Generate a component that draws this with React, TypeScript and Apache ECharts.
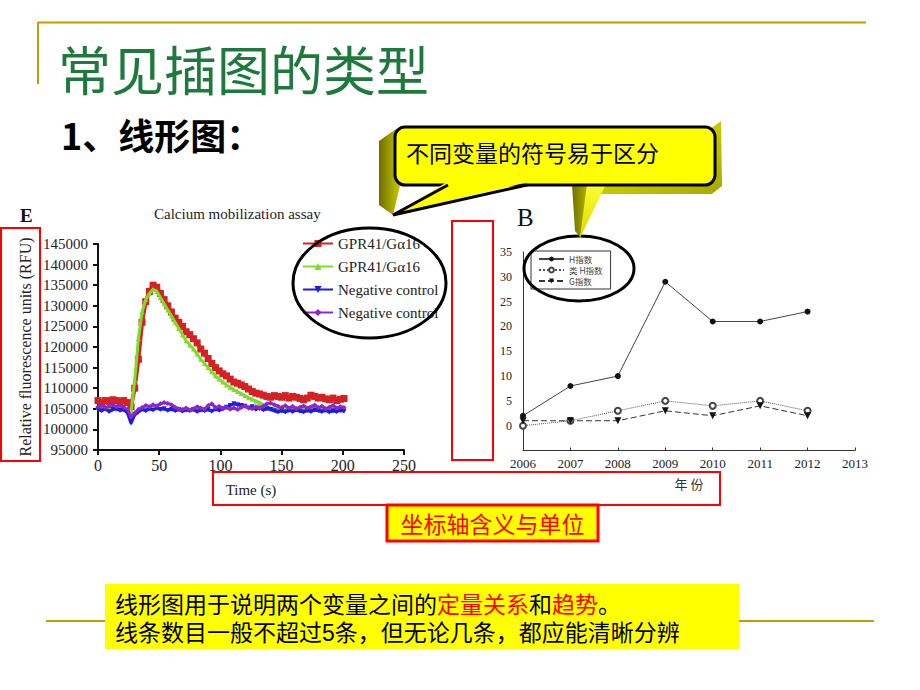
import React, { useEffect, useRef } from 'react';
import * as echarts from 'echarts';

// ---------- Panel E: Calcium mobilization assay ----------
const timeS = [0, 3, 6, 9, 12, 15, 18, 21, 24, 27, 30, 33, 36, 39, 42, 45, 48, 51, 54, 57, 60, 63, 66, 69, 72, 75, 78, 81, 84, 87, 90, 93, 96, 99, 102, 105, 108, 111, 114, 117, 120, 123, 126, 129, 132, 135, 138, 141, 144, 147, 150, 153, 156, 159, 162, 165, 168, 171, 174, 177, 180, 183, 186, 189, 192, 195, 198, 201];

const gprRed = [
  107000, 106500, 107000, 106800, 107200, 107000, 106600, 107000, 106500, 105500,
  110000, 117000, 126000, 131000, 133500, 135000, 134500, 133000, 131500, 130000,
  128500, 127000, 126000, 125000, 123700, 123000, 122000, 121000, 119500, 118500,
  117200, 116000, 115000, 114200, 113500, 113000, 112200, 111500, 111200, 110800,
  110400, 109800, 109200, 108800, 108600, 108300, 108000, 107800, 108200, 108000,
  107800, 108200, 107600, 108000, 107800, 107500, 107200, 107600, 108300, 108000,
  107600, 107800, 107400, 107200, 107600, 107000, 107300, 107500,
];
const gprGreen = [
  105200, 105000, 105400, 105100, 105300, 105000, 105200, 104900, 104800, 104200,
  112000, 122000, 128500, 131500, 133000, 134000, 133500, 132000, 130500, 129000,
  127500, 126000, 124500, 123000, 121500, 120500, 119500, 118300, 117000, 116000,
  115000, 114000, 113000, 112200, 111500, 110800, 110200, 109700, 109200, 108700,
  108200, 107700, 107300, 106900, 106500, 106000, 105500, 105200, 105000, 104900,
  105100, 104800, 105000, 104900, 105200, 104800, 105000, 104700, 105100, 104900,
  105000, 104800, 105100, 104900, 104700, 105000, 104800, 105000,
];
const negBlue = [
  104800, 104500, 105000, 104300, 104800, 105000, 104600, 104800, 104000, 101500,
  103500, 104200, 104800, 104500, 105000, 104700, 105200, 104800, 105000, 104600,
  104900, 104500, 104800, 104400, 104700, 104500, 104800, 104300, 104700, 104500,
  104800, 104400, 104900, 104600, 105000, 105400, 105800, 106200, 106000, 105800,
  105600, 105200, 105500, 104800, 105200, 104700, 105000, 104800, 104500, 104200,
  104500, 104200, 104600, 104300, 104700, 104400, 104200, 104600, 104300, 104700,
  104500, 104300, 104600, 104200, 104500, 104300, 104600, 104400,
];
const negPurple = [
  105500, 105800, 105300, 105600, 106000, 105500, 105800, 105400, 104800, 103000,
  104000, 104800, 105300, 105800, 105500, 106000, 105700, 106200, 106500, 106300,
  106000, 105400, 105000, 104800, 105200, 104700, 105000, 105500, 105200, 104900,
  105800, 106200, 105300, 105600, 105000, 105300, 104900, 105200, 104800, 105300,
  105700, 105200, 105000, 105500, 105100, 105600, 106200, 106400, 106000, 105600,
  105300, 105800, 105200, 105600, 105000, 105400, 105700, 105200, 105500, 105900,
  105300, 105600, 105000, 105400, 105800, 105200, 105500, 105300,
];
const legendE = ['GPR41/Gα16', 'GPR41/Gα16', 'Negative control', 'Negative control'];

// ---------- Panel B: index by year ----------
const yearsB = [2006, 2007, 2008, 2009, 2010, 2011, 2012];
const hIndex = [2, 8, 10, 29, 21, 21, 23];
const hLikeIndex = [0, 1, 3, 5, 4, 5, 3];
const gIndex = [1, 1, 1, 3, 2, 4, 2];
const legendB = ['H指数', '类 H指数', 'G指数'];

const serif = '"Liberation Serif", "DejaVu Serif", serif';
const cjk = '"Noto Sans CJK SC", "Noto Sans", sans-serif';
const noteFont = '"Liberation Sans", "Noto Sans CJK SC", sans-serif';

export default function App() {
  const ref = useRef<HTMLDivElement>(null);

  useEffect(() => {
    if (!ref.current) return;
    const chart = echarts.init(ref.current, null, { renderer: 'svg' });

    const eNames = legendE.map((n, i) => n + '#' + i);
    const pairs = (vals: number[]) => timeS.map((t, i) => [t, vals[i]]);
    const yb = (vals: number[]) => yearsB.map((y, i) => [y, vals[i]]);

    const eColors = ['#d42222', '#7fdd2a', '#1c1ce6', '#9026c4'];
    const eSymbols = ['rect', 'triangle', 'triangle', 'diamond'];
    const eRot = [0, 0, 180, 0];
    const eWidth = [4, 3, 3, 3];
    const eData = [gprRed, gprGreen, negBlue, negPurple];

    const eSeries = eData.map((vals, i) => ({
      type: 'line',
      name: eNames[i],
      xAxisIndex: 0,
      yAxisIndex: 0,
      data: pairs(vals),
      symbol: eSymbols[i],
      symbolRotate: eRot[i],
      symbolSize: i === 0 ? 7 : 5,
      showAllSymbol: true,
      lineStyle: { color: eColors[i], width: eWidth[i] },
      itemStyle: { color: eColors[i] },
      z: 2 + i,
    }));

    const bSeries = [
      {
        type: 'line', name: legendB[0], xAxisIndex: 1, yAxisIndex: 1, data: yb(hIndex),
        symbol: 'circle', symbolSize: 6,
        lineStyle: { color: '#444', width: 1 }, itemStyle: { color: '#111' },
      },
      {
        type: 'line', name: legendB[1], xAxisIndex: 1, yAxisIndex: 1, data: yb(hLikeIndex),
        symbol: 'emptyCircle', symbolSize: 6,
        lineStyle: { color: '#555', width: 1, type: 'dotted' }, itemStyle: { color: '#444', borderColor: '#444' },
      },
      {
        type: 'line', name: legendB[2], xAxisIndex: 1, yAxisIndex: 1, data: yb(gIndex),
        symbol: 'triangle', symbolRotate: 180, symbolSize: 7,
        lineStyle: { color: '#333', width: 1, type: [6, 3] }, itemStyle: { color: '#111' },
      },
    ];

    const T = (text: string, x: number, y: number, font: string, fill: string, align = 'left', valign = 'middle', extra: any = {}) => ({
      type: 'text', x, y, z: 20,
      style: { text, font, fill, textAlign: align, textVerticalAlign: valign, align, verticalAlign: valign, ...extra },
    });

    const gold = '#c99a00';
    const graphics: any[] = [
      // slide frame
      { type: 'line', shape: { x1: 38, y1: 22.5, x2: 866, y2: 22.5 }, style: { stroke: gold, lineWidth: 2 }, z: 1 },
      { type: 'line', shape: { x1: 38, y1: 22, x2: 38, y2: 84 }, style: { stroke: gold, lineWidth: 2 }, z: 1 },
      { type: 'line', shape: { x1: 46, y1: 621, x2: 874, y2: 621 }, style: { stroke: gold, lineWidth: 2 }, z: 1 },
      T('常见插图的类型', 58, 68, `normal 53px ${cjk}`, '#1d7a3c'),
      T('1、线形图：', 61, 134, `bold 36px ${cjk}`, '#000'),

      // callout 3D extrude
      {
        type: 'polygon', z: 18,
        shape: { points: [[396, 129], [379, 141], [379, 205], [393, 215], [400, 186]] },
        style: { fill: new echarts.graphic.LinearGradient(0, 0, 1, 0, [{ offset: 0, color: '#6f6f00' }, { offset: 1, color: '#c9c900' }]) },
      },
      {
        type: 'polygon', z: 18,
        shape: { points: [[713, 127], [721, 121], [722, 186], [712, 194], [600, 194], [604, 184]] },
        style: { fill: new echarts.graphic.LinearGradient(0, 0, 1, 1, [{ offset: 0, color: '#e8e800' }, { offset: 1, color: '#a8a800' }]) },
      },
      {
        type: 'polygon', z: 18,
        shape: { points: [[572, 184], [606, 184], [580, 238]] },
        style: { fill: new echarts.graphic.LinearGradient(0, 0, 0, 1, [{ offset: 0, color: '#ffff30' }, { offset: 1, color: '#d8d800' }]) },
      },
      {
        type: 'polygon', z: 18,
        shape: { points: [[572, 184], [587, 184], [580, 237], [575, 231]] },
        style: { fill: new echarts.graphic.LinearGradient(0, 0, 1, 0, [{ offset: 0, color: '#707000' }, { offset: 1, color: '#b0b000' }]) },
      },
      // callout body
      { type: 'rect', z: 19, shape: { x: 395, y: 127, width: 320, height: 58, r: 10 }, style: { fill: '#ffff00', stroke: '#000', lineWidth: 3 } },
      { type: 'polygon', z: 19, shape: { points: [[447, 182], [393, 215], [528, 182]] }, style: { fill: '#ffff00' } },
      { type: 'polyline', z: 19, shape: { points: [[448, 185], [393, 215], [527, 185]] }, style: { stroke: '#000', lineWidth: 3, fill: null } },
      T('不同变量的符号易于区分', 406, 152, `normal 23px ${cjk}`, '#000'),

      // panel labels
      T('E', 20, 215, `bold 19px ${serif}`, '#111'),
      T('B', 517, 217, `normal 25px ${serif}`, '#111'),

      // red highlight boxes
      { type: 'rect', z: 15, shape: { x: 1, y: 228, width: 39, height: 233 }, style: { fill: null, stroke: '#ff0000', lineWidth: 2 } },
      { type: 'rect', z: 15, shape: { x: 452, y: 221, width: 41, height: 239 }, style: { fill: null, stroke: '#ff0000', lineWidth: 2 } },
      { type: 'rect', z: 15, shape: { x: 213, y: 472, width: 507, height: 33 }, style: { fill: null, stroke: '#ff0000', lineWidth: 2 } },
      { type: 'rect', z: 16, shape: { x: 387, y: 505, width: 211, height: 36 }, style: { fill: '#ffff00', stroke: '#ff0000', lineWidth: 3 } },
      T('坐标轴含义与单位', 492.5, 523, `normal 23px ${cjk}`, '#ff0000', 'center'),

      // legend ellipses
      { type: 'ellipse', z: 15, shape: { cx: 369.5, cy: 283, rx: 76.5, ry: 55 }, style: { fill: null, stroke: '#000', lineWidth: 3 } },
      { type: 'ellipse', z: 15, shape: { cx: 579, cy: 268.5, rx: 55, ry: 32.5 }, style: { fill: null, stroke: '#000', lineWidth: 3 } },

      // bottom note
      { type: 'rect', z: 15, shape: { x: 105, y: 584, width: 634, height: 65 }, style: { fill: '#ffff00' } },
      T('线形图用于说明两个变量之间的{r|定量关系}和{r|趋势}。\n线条数目一般不超过5条，但无论几条，都应能清晰分辨', 115, 619, `normal 23px ${noteFont}`, '#000', 'left', 'middle', {
        lineHeight: 28,
        rich: { r: { fill: '#ff0000', font: `normal 23px ${noteFont}`, fontSize: 23, fontFamily: noteFont, lineHeight: 28 } },
      }),
    ];

    const option: any = {
      animation: false,
      backgroundColor: '#ffffff',
      title: [{
        text: 'Calcium mobilization assay', left: 154, top: 206, padding: 0,
        textStyle: { fontFamily: serif, fontSize: 15, fontWeight: 'normal', color: '#222' },
      }],
      grid: [
        { left: 98, top: 244, width: 306, height: 206 },
        { left: 523, top: 252, width: 332, height: 198.5 },
      ],
      xAxis: [
        {
          gridIndex: 0, type: 'value', min: 0, max: 250, interval: 50,
          name: 'Time (s)', nameLocation: 'middle', nameGap: 32,
          nameTextStyle: { fontFamily: serif, fontSize: 15, color: '#222' },
          axisLine: { onZero: false, lineStyle: { color: '#111', width: 2 } },
          axisTick: { show: true, length: 5, lineStyle: { color: '#111', width: 2 } },
          axisLabel: { fontFamily: serif, fontSize: 16, color: '#222', margin: 7, formatter: (v: number) => String(v) },
          splitLine: { show: false },
        },
        {
          gridIndex: 1, type: 'value', min: 2006, max: 2013, interval: 1,
          name: '年 份', nameLocation: 'middle', nameGap: 26,
          nameTextStyle: { fontFamily: cjk, fontSize: 13, color: '#333' },
          axisLine: { onZero: false, lineStyle: { color: '#333', width: 1 } },
          axisTick: { show: true, inside: true, length: 3, lineStyle: { color: '#333' } },
          axisLabel: { fontFamily: serif, fontSize: 13, color: '#222', margin: 6, formatter: (v: number) => String(v) },
          splitLine: { show: false },
        },
      ],
      yAxis: [
        {
          gridIndex: 0, type: 'value', min: 95000, max: 145000, interval: 5000,
          name: 'Relative fluorescence units (RFU)', nameLocation: 'middle', nameGap: 65, nameRotate: 90,
          nameTextStyle: { fontFamily: serif, fontSize: 16, color: '#222' },
          axisLine: { show: true, onZero: false, lineStyle: { color: '#111', width: 2 } },
          axisTick: { show: true, length: 5, lineStyle: { color: '#111', width: 2 } },
          axisLabel: { fontFamily: serif, fontSize: 15, color: '#222', margin: 10, formatter: (v: number) => String(v) },
          splitLine: { show: false },
        },
        {
          gridIndex: 1, type: 'value', min: -5, max: 35, interval: 5,
          axisLine: { show: true, onZero: false, lineStyle: { color: '#333', width: 1 } },
          axisTick: { show: false },
          axisLabel: { fontFamily: serif, fontSize: 12, color: '#222', margin: 11, formatter: (v: number) => (v < 0 ? '' : String(v)) },
          splitLine: { show: false },
        },
      ],
      legend: [
        {
          data: eNames, orient: 'vertical', left: 302, top: 236, padding: 0,
          itemWidth: 30, itemHeight: 9, itemGap: 8, itemTextGap: 6, selectedMode: false,
          formatter: (name: string) => name.split('#')[0],
          textStyle: { fontFamily: serif, fontSize: 15, color: '#222' },
        },
        {
          data: legendB, orient: 'vertical', left: 531, top: 251, padding: [3, 8, 3, 7],
          itemWidth: 25, itemHeight: 6, itemGap: 1, itemTextGap: 8, selectedMode: false,
          borderColor: '#333', borderWidth: 1,
          textStyle: { fontFamily: cjk, fontSize: 8.5, lineHeight: 10, color: '#444' },
        },
      ],
      series: [...eSeries, ...bSeries],
      graphic: { elements: graphics },
    };

    chart.setOption(option);
    return () => chart.dispose();
  }, []);

  return <div ref={ref} style={{ position: 'absolute', left: 0, top: 0, width: 920, height: 690 }} />;
}
